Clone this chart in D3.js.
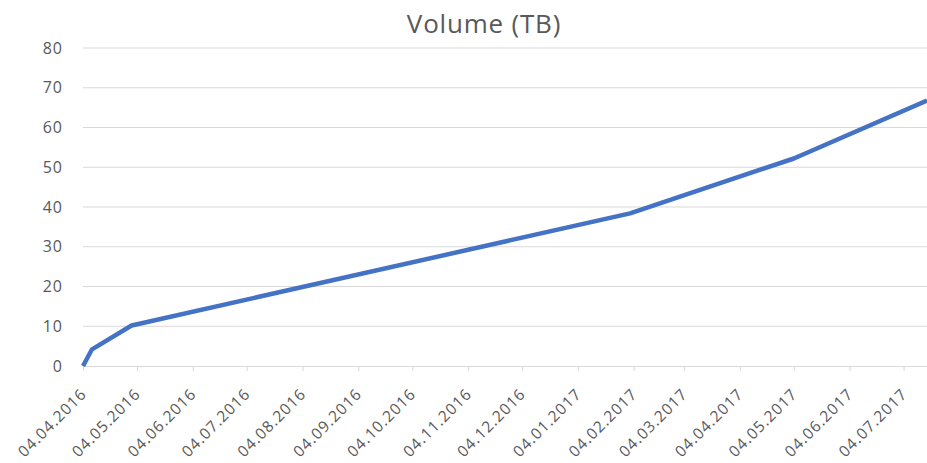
<!DOCTYPE html>
<html>
<head>
<meta charset="utf-8">
<script src="https://cdn.jsdelivr.net/npm/d3@7"></script>
<style>
  body { margin: 0; background: #fff; }
  text { font-family: "Open Sans", sans-serif; fill: #595959; }
  .grid line { stroke: #d9d9d9; stroke-width: 1; }
  .axis path, .axis line { stroke: #d9d9d9; }
</style>
</head>
<body>
<div id="chart"></div>
<script>
// Data
const dates = ["04.04.2016", "09.04.2016", "01.05.2016", "02.02.2017", "04.05.2017", "17.07.2017"];
const volumes = [0, 4.2, 10.2, 38.4, 52.2, 66.8];
const tickLabels = ["04.04.2016", "04.05.2016", "04.06.2016", "04.07.2016", "04.08.2016",
  "04.09.2016", "04.10.2016", "04.11.2016", "04.12.2016", "04.01.2017", "04.02.2017",
  "04.03.2017", "04.04.2017", "04.05.2017", "04.06.2017", "04.07.2017"];
const yTicks = [0, 10, 20, 30, 40, 50, 60, 70, 80];

const parse = d3.timeParse("%d.%m.%Y");
const fmt = d3.timeFormat("%d.%m.%Y");
const data = dates.map((d, i) => ({date: parse(d), value: volumes[i]}));

const width = 927, height = 463;
const margin = {top: 48, right: 0, bottom: 97, left: 83};
const innerW = width - margin.left - margin.right;
const innerH = height - margin.top - margin.bottom;

const svg = d3.select('#chart').append('svg')
    .attr('width', width)
    .attr('height', height);

const chart = svg.append('g')
    .attr('transform', `translate(${margin.left},${margin.top})`);

const x = d3.scaleTime()
    .domain([parse("04.04.2016"), parse("17.07.2017")])
    .range([0, innerW]);
const y = d3.scaleLinear().domain([0, 80]).range([innerH, 0]);

// horizontal gridlines
chart.append('g')
    .attr('class', 'grid')
    .selectAll('line')
    .data(yTicks.filter(d => d > 0))
    .join('line')
    .attr('x1', 0)
    .attr('x2', innerW)
    .attr('y1', d => y(d))
    .attr('y2', d => y(d));

// y axis labels only
const yAxisG = chart.append('g')
    .attr('class', 'axis y-axis')
    .call(d3.axisLeft(y).tickValues(yTicks).tickSize(0).tickPadding(20));
yAxisG.select('.domain').remove();
yAxisG.selectAll('text')
    .style('font-size', '16px')
    .style('letter-spacing', '1px');

// x axis
const xAxisG = chart.append('g')
    .attr('class', 'axis x-axis')
    .attr('transform', `translate(0,${innerH})`)
    .call(d3.axisBottom(x)
      .tickValues(tickLabels.map(parse))
      .tickFormat(fmt)
      .tickSize(5)
      .tickSizeOuter(0));
xAxisG.selectAll('text')
    .style('font-size', '15.5px')
    .style('letter-spacing', '1px')
    .attr('text-anchor', 'end')
    .attr('dy', null)
    .attr('x', 0)
    .attr('y', 0)
    .attr('transform', 'translate(4,29) rotate(-45)');

// line
const line = d3.line()
    .x(d => x(d.date))
    .y(d => y(d.value));

chart.append('path')
    .datum(data)
    .attr('fill', 'none')
    .attr('stroke', '#4472c4')
    .attr('stroke-width', 4.5)
    .attr('stroke-linejoin', 'round')
    .attr('d', line);

// title
svg.append('text')
    .attr('x', 484)
    .attr('y', 33)
    .attr('text-anchor', 'middle')
    .style('font-size', '26px')
    .style('letter-spacing', '0.8px')
    .text('Volume (TB)');
</script>
</body>
</html>
